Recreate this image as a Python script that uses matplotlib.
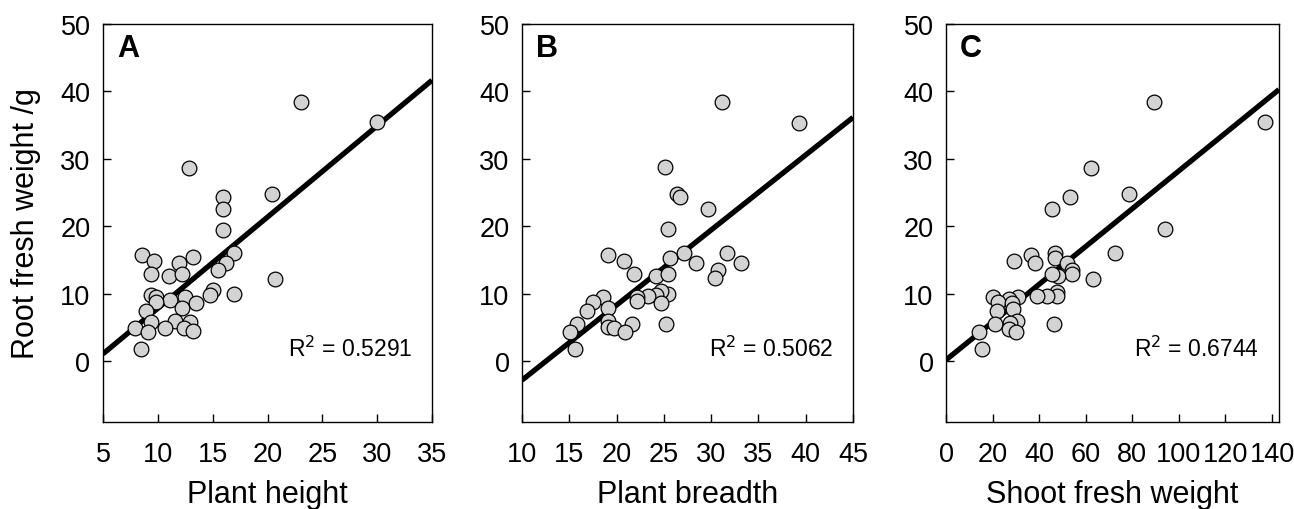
import numpy as np
import matplotlib
matplotlib.use("Agg")
import matplotlib.pyplot as plt

plt.rcParams['font.family'] = ['Liberation Sans', 'DejaVu Sans']

# --- DATA ---
root_a = [38.4, 35.4, 28.7, 24.8, 24.3, 22.6, 19.5, 16.0, 14.6, 13.5, 15.7, 14.9, 15.4,
          14.6, 12.9, 12.7, 13.0, 12.2, 10.0, 10.5, 9.8, 9.8, 9.6, 9.1, 9.6, 8.75, 8.6,
          7.9, 7.4, 5.8, 6.0, 5.8, 4.9, 4.3, 4.9, 4.9, 4.45, 1.8]
height = [23.08, 29.94, 12.88, 20.43, 15.92, 15.92, 15.92, 16.94, 16.22, 15.53, 8.58, 9.66,
          13.24, 11.95, 9.42, 11.02, 12.19, 20.67, 16.94, 15.05, 14.74, 9.42, 9.87, 11.08,
          12.52, 9.84, 13.45, 12.19, 8.91, 9.39, 11.53, 12.91, 7.89, 9.06, 10.66, 12.40,
          13.18, 8.43]

root_b = [38.4, 35.3, 28.8, 24.8, 24.3, 22.6, 19.6, 15.7, 14.9, 16.0, 15.3, 14.6, 16.0,
          14.5, 13.5, 12.3, 12.9, 12.7, 13.0, 10.0, 10.4, 9.8, 9.7, 9.6, 8.95, 8.6, 9.6,
          8.75, 7.9, 7.5, 5.6, 5.9, 5.1, 4.9, 5.6, 4.4, 5.5, 4.3, 1.8]
breadth = [31.16, 39.33, 25.11, 26.41, 26.69, 29.65, 25.39, 19.12, 20.74, 27.15, 25.63,
           28.38, 31.69, 33.17, 30.70, 30.39, 21.80, 24.12, 25.39, 25.39, 24.72, 24.12,
           23.31, 22.11, 22.11, 24.65, 18.59, 17.46, 19.08, 16.87, 15.85, 19.12, 19.12,
           19.68, 21.62, 20.88, 25.18, 15.11, 15.60]

root_c = [38.4, 35.4, 28.7, 24.8, 24.3, 22.6, 19.6, 16.0, 16.0, 15.3, 15.8, 14.6, 14.9,
          14.6, 13.5, 13.0, 12.7, 12.9, 12.2, 10.2, 9.7, 9.7, 9.7, 9.6, 9.6, 9.25, 8.75,
          8.6, 7.8, 7.4, 5.9, 5.7, 5.6, 5.5, 4.8, 4.4, 4.3, 1.8]
shoot = [89.5, 136.8, 62.3, 78.5, 53.4, 45.7, 94.1, 72.6, 47.0, 47.0, 36.3, 38.3, 29.0,
         51.8, 54.0, 54.0, 48.2, 45.5, 63.3, 47.5, 47.5, 43.2, 38.9, 30.9, 20.0, 27.0,
         22.2, 28.5, 28.6, 21.7, 30.5, 27.6, 21.0, 46.5, 27.0, 30.2, 14.3, 15.4]

# regression lines (intercept, slope) and R^2 as printed
fits = [(-5.66, 1.352), (-13.93, 1.113), (0.2, 0.2803)]
r2 = ["0.5291", "0.5062", "0.6744"]
letters = ["A", "B", "C"]
xlabels = ["Plant height", "Plant breadth", "Shoot fresh weight"]
xlims = [(5, 35), (10, 45), (0, 143)]
xticks = [range(5, 36, 5), range(10, 46, 5), range(0, 141, 20)]
yticks = range(0, 51, 10)

xs = [height, breadth, shoot]
ys = [root_a, root_b, root_c]

fig = plt.figure(figsize=(12.94, 5.10), dpi=100)
positions = [[103, 329], [522, 331], [946, 333]]

for i in range(3):
    left, width = positions[i]
    ax = fig.add_axes([left / 1294, 87 / 510, width / 1294, 398 / 510])
    b0, b1 = fits[i]
    lx = np.array(xlims[i], dtype=float)
    ax.plot(lx, b0 + b1 * lx, color='black', lw=3.8, zorder=2, solid_capstyle='butt')
    ax.scatter(xs[i], ys[i], s=112, facecolor='#d3d3d3', edgecolor='black',
               linewidth=0.9, zorder=3)
    ax.set_xlim(*xlims[i])
    ax.set_ylim(-9, 50)
    ax.set_xticks(list(xticks[i]))
    ax.set_yticks(list(yticks))
    ax.tick_params(direction='in', length=6, width=1, labelsize=19.5)
    ax.tick_params(axis='x', pad=14)
    ax.tick_params(axis='y', pad=9)
    for sp in ax.spines.values():
        sp.set_linewidth(1)
    ax.set_xlabel(xlabels[i], fontsize=22, labelpad=8)
    if i == 0:
        ax.set_ylabel("Root fresh weight /g", fontsize=22, labelpad=14)
    ax.text(0.042, 0.94, letters[i], transform=ax.transAxes, fontsize=22,
            fontweight='bold', ha='left', va='center')
    ax.text(0.94, 0.166, "R$^2$ = " + r2[i], transform=ax.transAxes, fontsize=16.5,
            ha='right', va='baseline')

fig.savefig("out.png", dpi=100)
